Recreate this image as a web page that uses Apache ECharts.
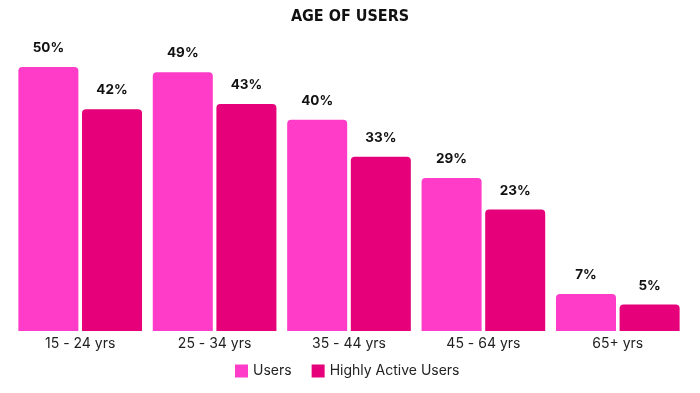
<!DOCTYPE html>
<html>
<head>
<meta charset="utf-8">
<script src="https://cdn.jsdelivr.net/npm/echarts@6/dist/echarts.min.js"></script>
<style>html,body{margin:0;padding:0;background:#fff;}#c{width:700px;height:393px;}</style>
</head>
<body>
<div id="c"></div>
<script>
const categories = ['15 - 24 yrs', '25 - 34 yrs', '35 - 44 yrs', '45 - 64 yrs', '65+ yrs'];
const users = [50, 49, 40, 29, 7];
const highlyActive = [42, 43, 33, 23, 5];
const seriesNames = ['Users', 'Highly Active Users'];

const chart = echarts.init(document.getElementById('c'));
const labelCfg = {
  show: true, position: 'top', distance: 12,
  formatter: '{c}%', color: '#111', fontSize: 13.5, fontWeight: 'bold',
  fontFamily: 'Inter, Roboto, sans-serif'
};
chart.setOption({
  animation: false,
  title: {
    text: 'AGE OF USERS', left: 'center', top: 4,
    textStyle: { fontFamily: '"DejaVu Sans Condensed", Roboto, sans-serif', fontWeight: 'bold', fontSize: 16, color: '#111' }
  },
  legend: {
    data: seriesNames, bottom: 10, left: 230, itemWidth: 13, itemHeight: 13, itemGap: 20,
    icon: 'rect',
    textStyle: { fontSize: 14, color: '#222', fontFamily: 'Inter, Roboto, sans-serif' }
  },
  grid: { left: 13, right: 15, top: 67, bottom: 62 },
  xAxis: {
    type: 'category', data: categories,
    axisLine: { show: false }, axisTick: { show: false },
    axisLabel: { fontSize: 14, color: '#222', margin: 6, fontFamily: 'Inter, Roboto, sans-serif' }
  },
  yAxis: { type: 'value', min: 0, max: 50, show: false, splitLine: { show: false } },
  series: [
    { name: seriesNames[0], type: 'bar', data: users, barGap: '6%', barCategoryGap: '8%',
      itemStyle: { color: '#ff3cc8', borderRadius: [4, 4, 0, 0] }, label: labelCfg },
    { name: seriesNames[1], type: 'bar', data: highlyActive,
      itemStyle: { color: '#e6007a', borderRadius: [4, 4, 0, 0] }, label: labelCfg }
  ]
});
</script>
</body>
</html>
